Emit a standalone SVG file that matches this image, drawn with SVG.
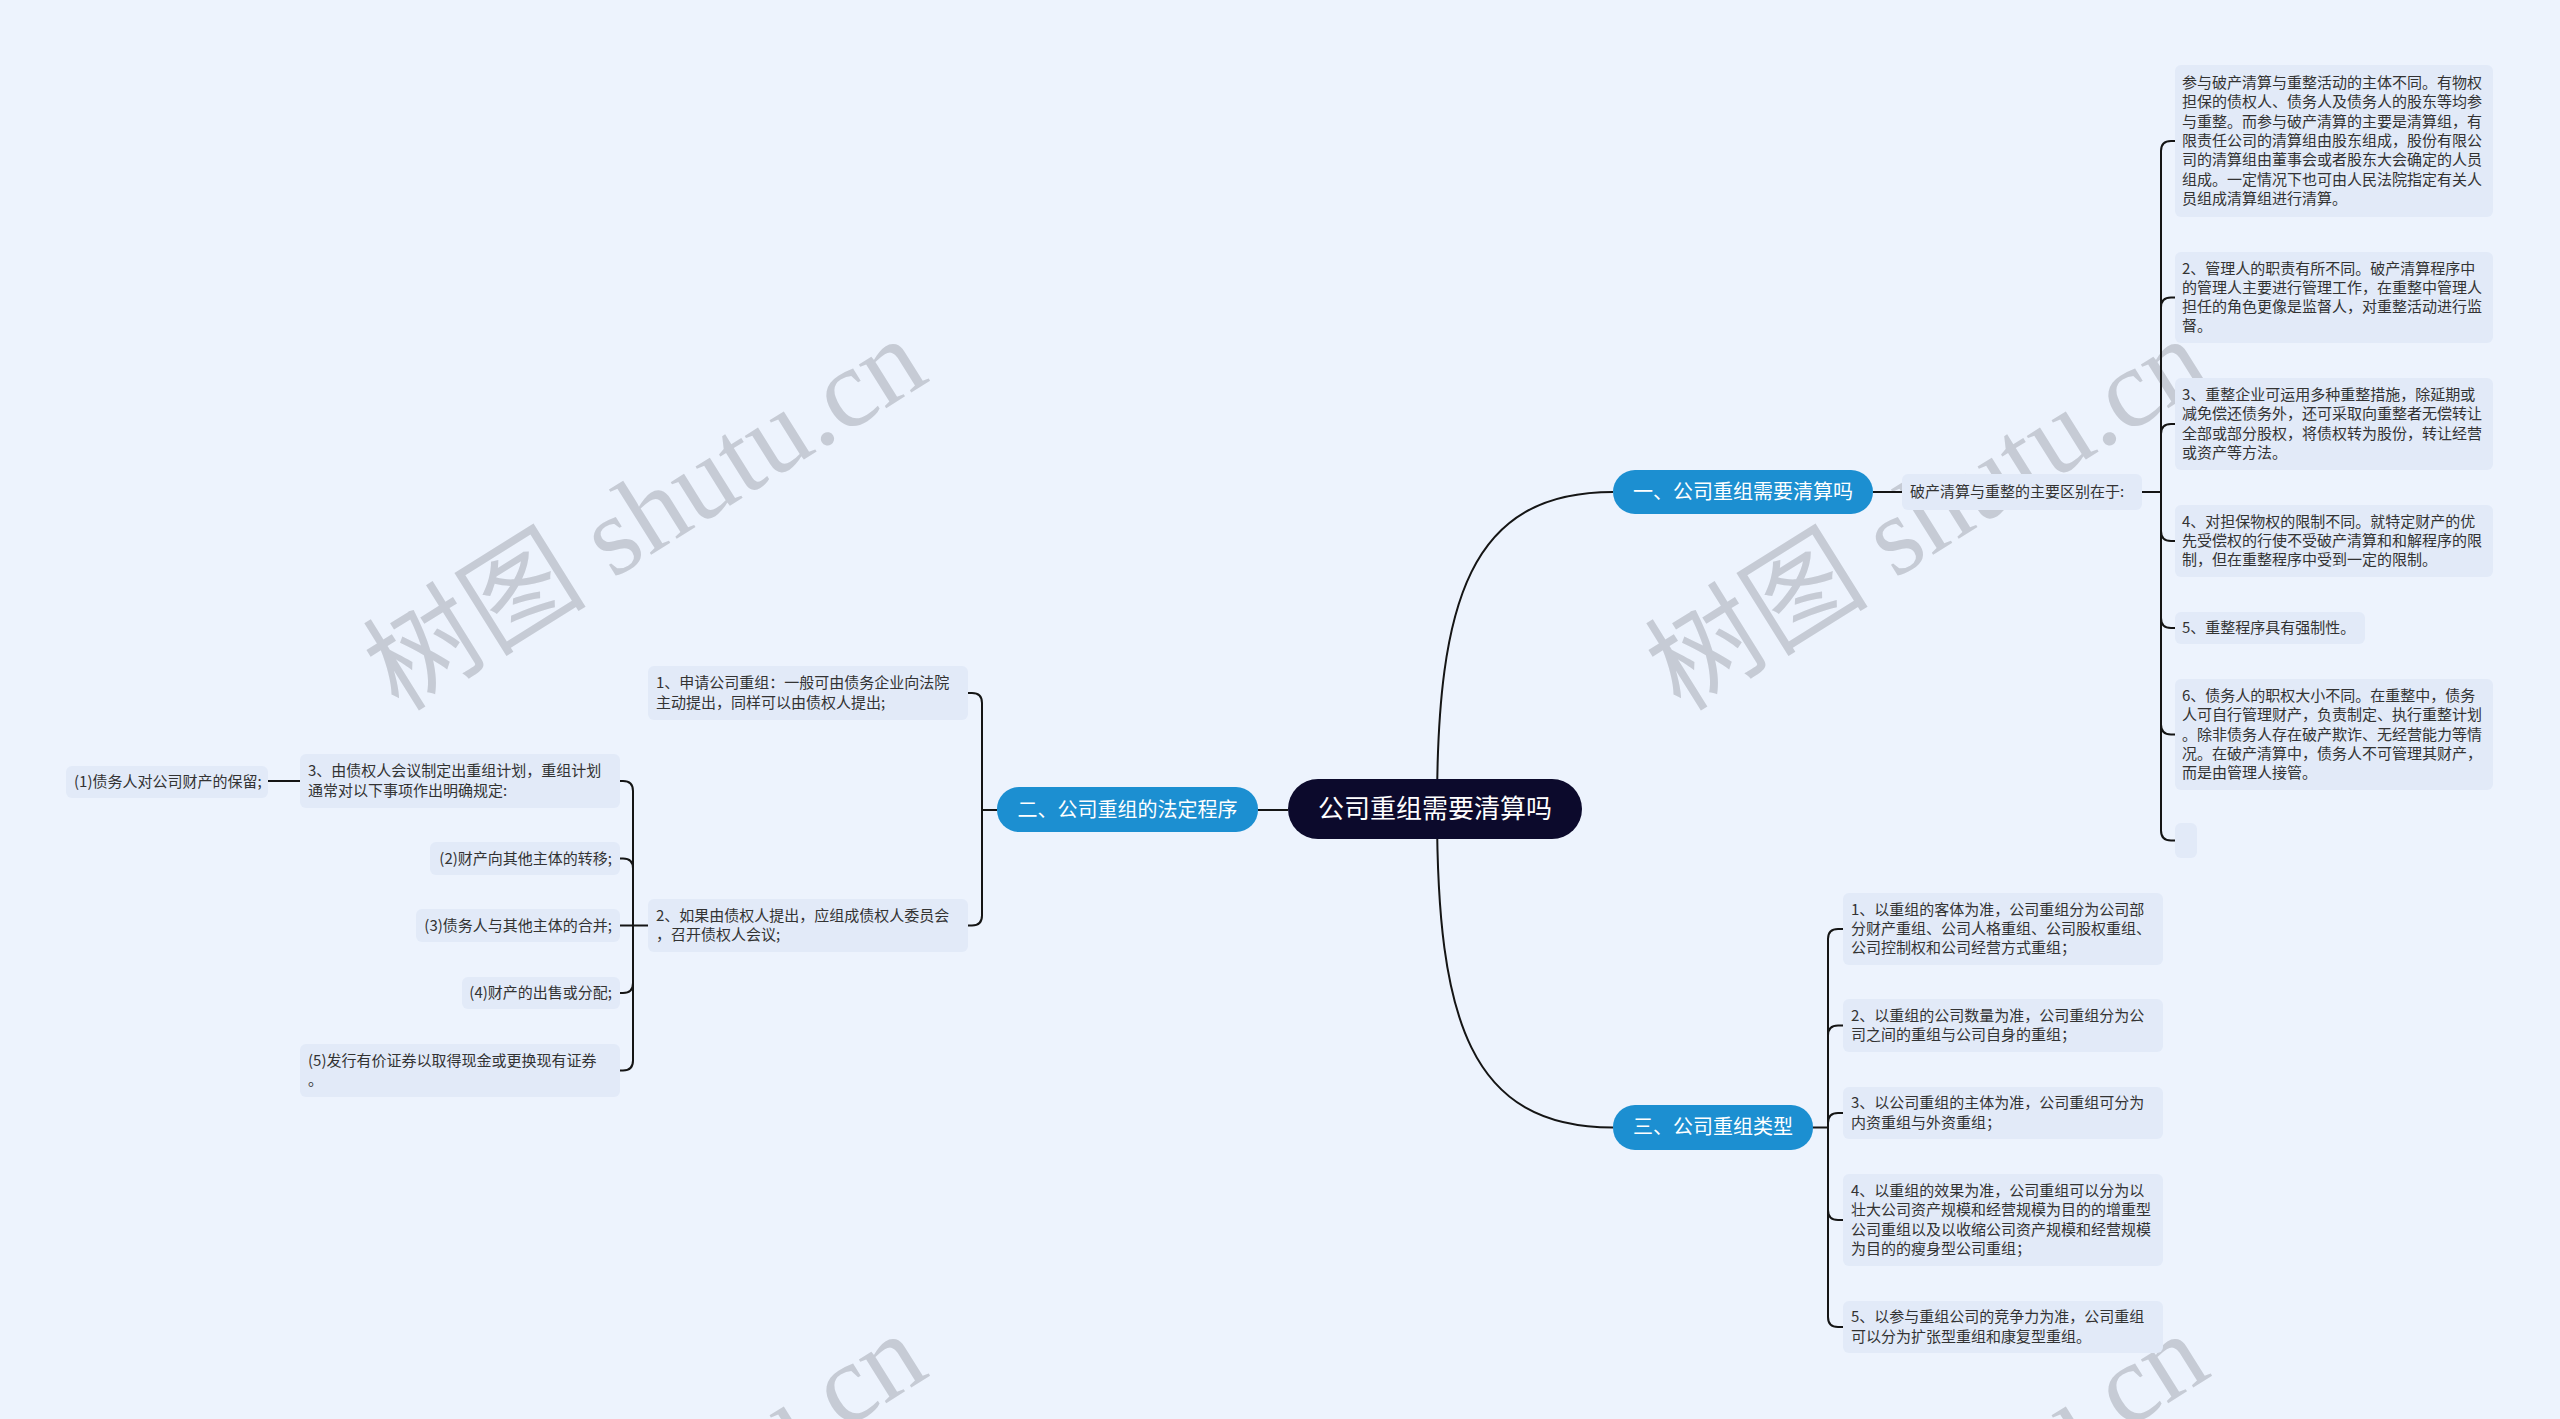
<svg xmlns="http://www.w3.org/2000/svg" width="2560" height="1419" viewBox="0 0 2560 1419">
<style>
.wm{font-family:"Liberation Serif","Noto Sans CJK SC",serif;font-size:112px;fill:#c6cbd5;}
.conn{fill:none;stroke:#151515;stroke-width:2;}
.leaf rect{fill:#e2eaf8;}
.leaf text{font-family:"Noto Sans CJK SC","Noto Sans",sans-serif;font-size:15px;fill:#333;}
.branch rect{fill:#1c8fd1;}
.branch text{font-family:"Noto Sans CJK SC","Noto Sans",sans-serif;font-size:20px;fill:#fff;text-anchor:middle;}
.root rect{fill:#0c0a2c;}
.root text{font-family:"Noto Sans CJK SC","Noto Sans",sans-serif;font-size:26px;fill:#fff;text-anchor:middle;}
.end{text-anchor:end;}
</style>
<rect width="2560" height="1419" fill="#edf3fd"/>
<g id="watermarks">
<text class="wm" text-anchor="middle" transform="translate(645,514) rotate(-32)" y="38">树图 shutu.cn</text>
<text class="wm" text-anchor="middle" transform="translate(1927,514) rotate(-32)" y="38">树图 shutu.cn</text>
<text class="wm" text-anchor="middle" transform="translate(645,1509) rotate(-32)" y="38">树图 shutu.cn</text>
<text class="wm" text-anchor="middle" transform="translate(1927,1509) rotate(-32)" y="38">树图 shutu.cn</text>
</g>
<g id="connectors">
<path class="conn" d="M1437,809 C1437,600 1470,492 1613,492"/>
<path class="conn" d="M1437,809 C1437,1020 1470,1127.5 1613,1127.5"/>
<path class="conn" d="M1288,810 H1258"/>
<path class="conn" d="M1873,492 H1902"/>
<path class="conn" d="M2142,492 H2161"/>
<path class="conn" d="M2161,492 V151 Q2161,141 2171,141 H2175"/>
<path class="conn" d="M2161,492 V307.5 Q2161,297.5 2171,297.5 H2175"/>
<path class="conn" d="M2161,492 V434 Q2161,424 2171,424 H2175"/>
<path class="conn" d="M2161,492 V531 Q2161,541 2171,541 H2175"/>
<path class="conn" d="M2161,492 V618 Q2161,628 2171,628 H2175"/>
<path class="conn" d="M2161,492 V724.5 Q2161,734.5 2171,734.5 H2175"/>
<path class="conn" d="M2161,492 V830.5 Q2161,840.5 2171,840.5 H2175"/>
<path class="conn" d="M1813,1127.5 H1828"/>
<path class="conn" d="M1828,1127.5 V939 Q1828,929 1838,929 H1843"/>
<path class="conn" d="M1828,1127.5 V1035.5 Q1828,1025.5 1838,1025.5 H1843"/>
<path class="conn" d="M1828,1127.5 V1123 Q1828,1113 1838,1113 H1843"/>
<path class="conn" d="M1828,1127.5 V1210 Q1828,1220 1838,1220 H1843"/>
<path class="conn" d="M1828,1127.5 V1317 Q1828,1327 1838,1327 H1843"/>
<path class="conn" d="M997,810 H982"/>
<path class="conn" d="M982,810 V703 Q982,693 972,693 H968"/>
<path class="conn" d="M982,810 V915.5 Q982,925.5 972,925.5 H968"/>
<path class="conn" d="M648,925.5 H620"/>
<path class="conn" d="M633,925.5 V791 Q633,781 623,781 H620"/>
<path class="conn" d="M633,925.5 V868.5 Q633,858.5 623,858.5 H620"/>
<path class="conn" d="M633,925.5 V983 Q633,993 623,993 H620"/>
<path class="conn" d="M633,925.5 V1060.5 Q633,1070.5 623,1070.5 H620"/>
<path class="conn" d="M300,781 H268"/>
</g>
<g id="root" class="root"><rect x="1288" y="779" width="294" height="60" rx="30"/><text x="1435" y="818">公司重组需要清算吗</text></g>
<g id="b1" class="branch"><rect x="1613" y="470" width="260" height="44" rx="22"/><text x="1743" y="499">一、公司重组需要清算吗</text></g>
<g id="b2" class="branch"><rect x="997" y="787" width="261" height="45" rx="22"/><text x="1127.5" y="817">二、公司重组的法定程序</text></g>
<g id="b3" class="branch"><rect x="1613" y="1105" width="200" height="45" rx="22"/><text x="1713" y="1134">三、公司重组类型</text></g>
<g id="n1" class="leaf"><rect x="1902" y="474" width="240" height="36" rx="6"/><text x="1910" y="497">破产清算与重整的主要区别在于:</text></g>
<g id="r1" class="leaf"><rect x="2175" y="65" width="318" height="152" rx="6"/>
<text x="2182" y="88">参与破产清算与重整活动的主体不同。有物权</text>
<text x="2182" y="107.3">担保的债权人、债务人及债务人的股东等均参</text>
<text x="2182" y="126.6">与重整。而参与破产清算的主要是清算组，有</text>
<text x="2182" y="145.9">限责任公司的清算组由股东组成，股份有限公</text>
<text x="2182" y="165.2">司的清算组由董事会或者股东大会确定的人员</text>
<text x="2182" y="184.5">组成。一定情况下也可由人民法院指定有关人</text>
<text x="2182" y="203.8">员组成清算组进行清算。</text></g>
<g id="r2" class="leaf"><rect x="2175" y="252" width="318" height="91" rx="6"/>
<text x="2182" y="273.5">2、管理人的职责有所不同。破产清算程序中</text>
<text x="2182" y="292.8">的管理人主要进行管理工作，在重整中管理人</text>
<text x="2182" y="312.1">担任的角色更像是监督人，对重整活动进行监</text>
<text x="2182" y="331.4">督。</text></g>
<g id="r3" class="leaf"><rect x="2175" y="378" width="318" height="92" rx="6"/>
<text x="2182" y="400">3、重整企业可运用多种重整措施，除延期或</text>
<text x="2182" y="419.3">减免偿还债务外，还可采取向重整者无偿转让</text>
<text x="2182" y="438.6">全部或部分股权，将债权转为股份，转让经营</text>
<text x="2182" y="457.9">或资产等方法。</text></g>
<g id="r4" class="leaf"><rect x="2175" y="505" width="318" height="72" rx="6"/>
<text x="2182" y="526.7">4、对担保物权的限制不同。就特定财产的优</text>
<text x="2182" y="546">先受偿权的行使不受破产清算和和解程序的限</text>
<text x="2182" y="565.3">制，但在重整程序中受到一定的限制。</text></g>
<g id="r5" class="leaf"><rect x="2175" y="612" width="190" height="32" rx="6"/>
<text x="2182" y="633">5、重整程序具有强制性。</text></g>
<g id="r6" class="leaf"><rect x="2175" y="679" width="318" height="111" rx="6"/>
<text x="2182" y="700.9">6、债务人的职权大小不同。在重整中，债务</text>
<text x="2182" y="720.2">人可自行管理财产，负责制定、执行重整计划</text>
<text x="2182" y="739.5">。除非债务人存在破产欺诈、无经营能力等情</text>
<text x="2182" y="758.8">况。在破产清算中，债务人不可管理其财产，</text>
<text x="2182" y="778.1">而是由管理人接管。</text></g>
<g id="r7" class="leaf"><rect x="2175" y="823" width="22" height="35" rx="6"/></g>
<g id="s1" class="leaf"><rect x="1843" y="893" width="320" height="72" rx="6"/>
<text x="1851" y="914.7">1、以重组的客体为准，公司重组分为公司部</text>
<text x="1851" y="934">分财产重组、公司人格重组、公司股权重组、</text>
<text x="1851" y="953.3">公司控制权和公司经营方式重组；</text></g>
<g id="s2" class="leaf"><rect x="1843" y="999" width="320" height="53" rx="6"/>
<text x="1851" y="1020.9">2、以重组的公司数量为准，公司重组分为公</text>
<text x="1851" y="1040.2">司之间的重组与公司自身的重组；</text></g>
<g id="s3" class="leaf"><rect x="1843" y="1087" width="320" height="52" rx="6"/>
<text x="1851" y="1108.4">3、以公司重组的主体为准，公司重组可分为</text>
<text x="1851" y="1127.7">内资重组与外资重组；</text></g>
<g id="s4" class="leaf"><rect x="1843" y="1174" width="320" height="92" rx="6"/>
<text x="1851" y="1196">4、以重组的效果为准，公司重组可以分为以</text>
<text x="1851" y="1215.3">壮大公司资产规模和经营规模为目的的增重型</text>
<text x="1851" y="1234.6">公司重组以及以收缩公司资产规模和经营规模</text>
<text x="1851" y="1253.9">为目的的瘦身型公司重组；</text></g>
<g id="s5" class="leaf"><rect x="1843" y="1301" width="320" height="52" rx="6"/>
<text x="1851" y="1322.4">5、以参与重组公司的竞争力为准，公司重组</text>
<text x="1851" y="1341.7">可以分为扩张型重组和康复型重组。</text></g>
<g id="l1" class="leaf"><rect x="648" y="666" width="320" height="54" rx="6"/>
<text x="656" y="688.4">1、申请公司重组：一般可由债务企业向法院</text>
<text x="656" y="707.7">主动提出，同样可以由债权人提出;</text></g>
<g id="l2" class="leaf"><rect x="648" y="899" width="320" height="53" rx="6"/>
<text x="656" y="920.9">2、如果由债权人提出，应组成债权人委员会</text>
<text x="656" y="940.2">，召开债权人会议;</text></g>
<g id="t3" class="leaf"><rect x="300" y="754" width="320" height="54" rx="6"/>
<text x="308" y="776.4">3、由债权人会议制定出重组计划，重组计划</text>
<text x="308" y="795.7">通常对以下事项作出明确规定:</text></g>
<g id="p1" class="leaf"><rect x="66" y="766" width="202" height="32" rx="6"/>
<text x="74" y="787">(1)债务人对公司财产的保留;</text></g>
<g id="p2" class="leaf"><rect x="430" y="842" width="190" height="33" rx="6"/>
<text class="end" x="612" y="863.5">(2)财产向其他主体的转移;</text></g>
<g id="p3" class="leaf"><rect x="416" y="909" width="204" height="33" rx="6"/>
<text class="end" x="612" y="930.5">(3)债务人与其他主体的合并;</text></g>
<g id="p4" class="leaf"><rect x="462" y="977" width="158" height="32" rx="6"/>
<text class="end" x="612" y="998">(4)财产的出售或分配;</text></g>
<g id="p5" class="leaf"><rect x="300" y="1044" width="320" height="53" rx="6"/>
<text x="308" y="1065.9">(5)发行有价证券以取得现金或更换现有证券</text>
<text x="308" y="1085.2">。</text></g>
</svg>
